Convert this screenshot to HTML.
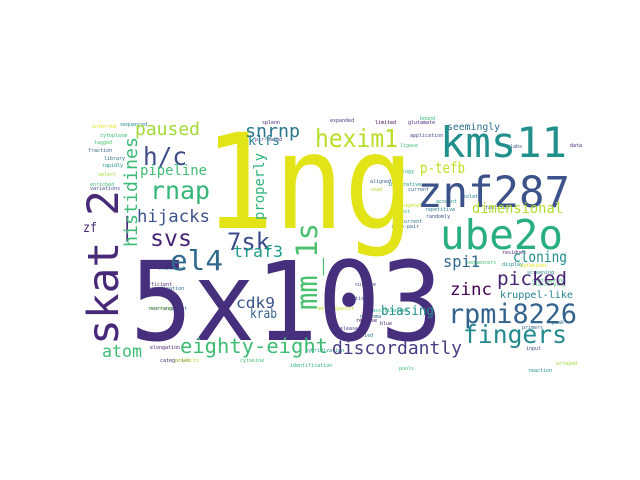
<!DOCTYPE html>
<html><head><meta charset="utf-8"><style>
html,body{margin:0;padding:0;background:#fff;width:640px;height:480px;overflow:hidden}
svg text{font-family:"DejaVu Sans Mono","Liberation Mono",monospace}
</style></head><body>
<svg id="cloud" width="640" height="480" viewBox="0 0 640 480"></svg>
<script>
const words=["1ng","5x103","skat_2","znf287","kms11","ube2o","rpmi8226","fingers","hexim1","h/c","rnap","paused","snrnp","klfs","histidines","pipeline","hijacks","svs","7sk","el4","traf3","mm_1s","properly","zf","atom","eighty-eight","discordantly","cdk9","krab","biasing","spi1","cloning","picked","zinc","kruppel-like","seemingly","p-tefb","dimensional"];
const weights=[132,110,43,43,42,41,27,25,25,25,25,18,18,13,18,14,17,23,24,28,16,29,14,13,17,20,18,15,13,13,16,15,19,17,10,10,15,14];
const colors=["#e2e418","#46307e","#482979","#3b528b","#21908d","#29af7f","#33638d","#23898e","#b8de29","#3e4c8a","#35b779","#a2da37","#2a788e","#27808e","#3bbb75","#40bd72","#3b528b","#482475","#3e4a89","#31688e","#1f9a8a","#4ac16d","#2fb47c","#482878","#3fbc73","#3fbc73","#433e85","#3a538b","#355f8d","#21918c","#31688e","#228d8d","#482374","#440154","#27808e","#2c728e","#c2df23","#b0dd2f"];
const layout=[[204,228,210,0],[130,340,313,0],[118,345,155,1],[417,207,153,0],[440,157,127,0],[440,249,123,0],[448,323,129,0],[463,343,104,0],[315,147,83,0],[143,165,44,0],[150,199,60,0],[135,135,65,0],[245,137,55,0],[248,145,32,0],[137,247,110,1],[140,175,67,0],[137,222,73,0],[150,246,42,0],[227,250,43,0],[170,270,53,0],[233,257,50,0],[317,310,87,1],[264,220,67,1],[83,232,14,0],[102,357,40,0],[180,353,148,0],[332,354,130,0],[236,308,39,0],[250,318,27,0],[381,315,53,0],[443,267,37,0],[513,262,54,0],[497,285,70,0],[450,295,42,0],[500,298,73,0],[447,130,53,0],[420,173,45,0],[472,213,91,0]];
const small=["inferred","sequenced","cytoplasm","tagged","fraction","library","rapidly","select","variations","enriched","splenn","pir-based","sizes","ligase","homology","integrative","phylogenetic","host","recurrent","male-pair","expanded","limited","glutamate","application","labs","data","aligned","read","current","isolate","account","families","repetitive","randomly","bound","residues","sequencers","display","cytokines","screening","contrasting","classifying","primers","peak","reaction","arrayed","input","pools","elongation","categories","products","cytokine","identification","hybridization","melanogaster","classification","amplified","nyeloma","releases","reverse","blue","culture","tissue","efficient","coordination","mirrored","rearrangement","domains","transient"];
const smallX=[92,120,100,94,88,104,102,98,90,90,262,255,226,400,390,388,392,398,395,392,330,375,408,410,510,570,370,370,408,460,436,485,425,426,420,502,466,502,520,527,532,532,522,552,528,556,526,399,150,160,175,240,290,305,318,366,346,360,337,356,380,355,355,145,148,150,148,150,158];
const smallY=[128,126,137,144,152,160,167,176,190,186,124,141,141,147,173,186,207,213,223,228,122,124,124,137,148,147,183,191,191,198,203,209,211,218,120,254,264,266,267,274,282,286,329,324,372,365,350,370,349,362,362,362,367,352,310,312,337,318,330,322,325,286,300,286,290,310,310,267,270];
const svg=document.getElementById('cloud');
const NS="http://www.w3.org/2000/svg";
for(let i=0;i<small.length&&i<smallX.length;i++){
  const t=document.createElementNS(NS,'text');
  
  
  t.setAttribute('x',smallX[i]);t.setAttribute('y',smallY[i]);
  t.setAttribute('font-size',5);
  t.setAttribute('fill',colors[(i*7)%colors.length]);
  t.textContent=small[i];svg.appendChild(t);
}
for(let i=0;i<words.length;i++){
  const L=layout[i];
  const t=document.createElementNS(NS,'text');
  
  
  t.setAttribute('x',L[0]);t.setAttribute('y',L[1]);
  t.setAttribute('font-size',weights[i]);
  t.setAttribute('textLength',L[2]);
  t.setAttribute('lengthAdjust','spacingAndGlyphs');
  t.setAttribute('fill',colors[i]);
  if(L[3])t.setAttribute('transform','rotate(-90 '+L[0]+' '+L[1]+')');
  t.textContent=words[i];svg.appendChild(t);
}
</script>
</body></html>
